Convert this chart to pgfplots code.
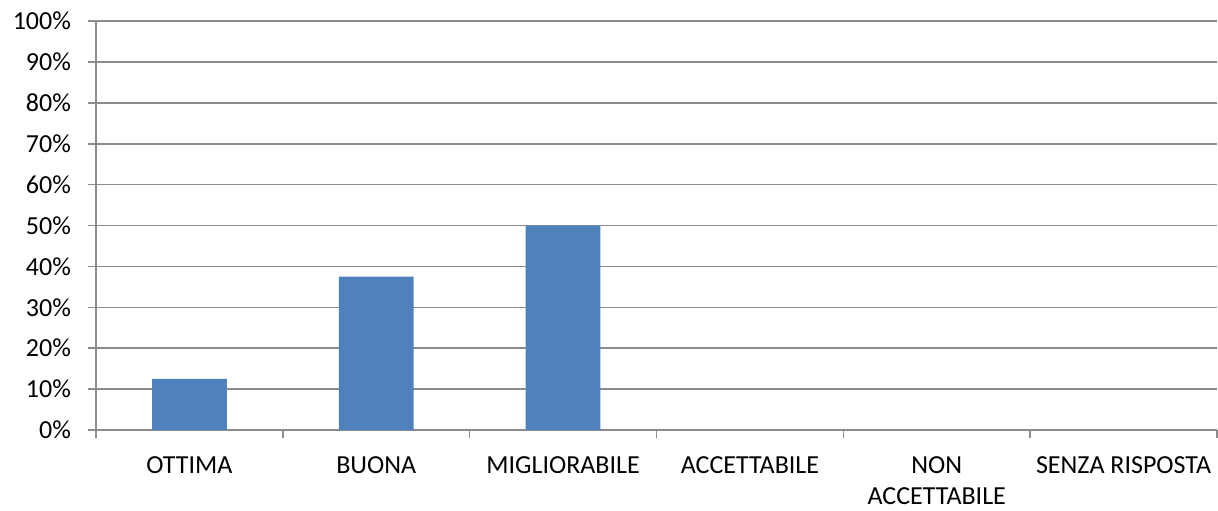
\documentclass[border=0pt]{standalone}
\usepackage{pgfplots}
\pgfplotsset{compat=1.18}
\usepackage{fontspec}
\setmainfont{Carlito}
\definecolor{barblue}{HTML}{4F81BD}
\definecolor{gridgray}{HTML}{8C8C8C}
\begin{document}
\begin{tikzpicture}
\begin{axis}[
  at={(0,0)}, anchor=south west,
  scale only axis,
  width=560.5pt, height=204.5pt,
  xmin=-0.5, xmax=5.5,
  ymin=0, ymax=100,
  axis lines*=left,
  axis line style={gridgray, line width=0.8pt, -},
  xtick={0,1,2,3,4,5},
  xticklabels={OTTIMA, BUONA, MIGLIORABILE, ACCETTABILE, {NON\\ACCETTABILE}, SENZA RISPOSTA},
  minor xtick={-0.5,0.5,1.5,2.5,3.5,4.5,5.5},
  major x tick style={draw=none},
  minor x tick style={gridgray, line width=0.8pt},
  minor tick length=4pt,
  ytick={0,10,...,100},
  yticklabels={0\%,10\%,20\%,30\%,40\%,50\%,60\%,70\%,80\%,90\%,100\%},
  major tick length=4pt,
  tick align=outside,
  y tick style={gridgray, line width=0.8pt},
  ymajorgrids,
  major grid style={gridgray, line width=0.8pt},
  xticklabel style={font=\fontsize{13}{15.5}\selectfont, align=center, anchor=north, yshift=-6pt},
  yticklabel style={font=\fontsize{13}{15}\selectfont, anchor=east, xshift=-5pt},
  ybar, bar width=0.4,
  clip=false,
]
\addplot[fill=barblue, draw=none] coordinates {(0,12.5) (1,37.5) (2,50) (3,0) (4,0) (5,0)};
\end{axis}
\pgfresetboundingbox
\path[use as bounding box] (-48pt,-40pt) rectangle (561pt,215pt);
\end{tikzpicture}
\end{document}
